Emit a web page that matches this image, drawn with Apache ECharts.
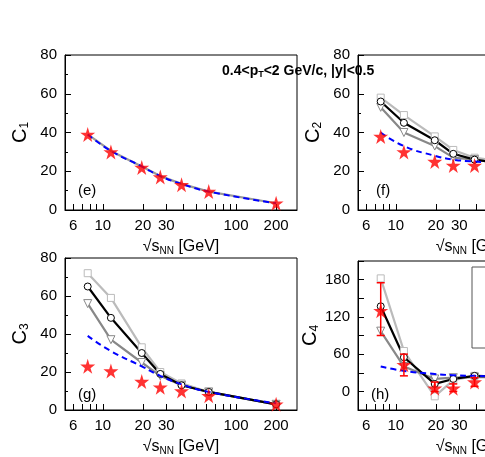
<!DOCTYPE html><html><head><meta charset="utf-8">
<script src="https://cdn.jsdelivr.net/npm/echarts@6/dist/echarts.min.js"></script>
<style>html,body{margin:0;background:#fff;overflow:hidden;width:485px;height:457px}#c{width:620px;height:457px}</style></head><body><div id="c"></div>
<script>
const energies = [7.7, 11.5, 19.6, 27, 39, 62.4, 200];
const xTickLabels = [6, 10, 20, 30, 100, 200];
// panel e (C1)
const c1Data = [39, 30, 22, 17, 13, 9.5, 3.5];
const c1Model = [39, 30.5, 22.5, 17.5, 13.5, 9.5, 3.5];
// panel f (C2)
const c2Data = [38, 30, 25, 23, 23, 22, 21];
const c2Blue = [40, 33, 28, 26, 25, 24, 23];
const c2Square = [58, 49, 38, 31, 27, 25, 23];
const c2Circle = [56, 45, 36, 29, 26, 24, 23];
const c2Tri = [53, 40, 33, 27, 26, 24, 23];
// panel g (C3)
const c3Data = [23, 20.5, 15, 12, 10, 7.5, 3];
const c3Blue = [39, 31, 23, 18, 13.5, 9.5, 3.5];
const c3Square = [72, 59, 33, 20, 14, 9.5, 3];
const c3Circle = [65, 48.5, 30, 19, 13, 9.5, 3];
const c3Tri = [56, 37, 25, 18, 13, 9.5, 3];
// panel h (C4)
const c4Data = [130, 43, 5, 5, 15, 20, 22];
const c4ErrLow = [90, 25, 0, 0, 8, 14, 18];
const c4ErrHigh = [175, 60, 15, 12, 22, 26, 26];
const c4Blue = [40, 33, 28, 26, 25, 24, 23];
const c4Square = [182, 65, -8, 18, 25, 24, 23];
const c4Circle = [137, 55, 12, 20, 25, 24, 23];
const c4Tri = [97, 40, 20, 22, 23, 23, 23];

const F = 'Liberation Sans';
const STAR = 'path://M50,0 L61,35 L98,35 L68,57 L79,91 L50,70 L21,91 L32,57 L2,35 L39,35 Z';
const pair = a => energies.map((e,i)=>[e,a[i]]);
const grids = [
 {left:65, top:55, width:232, height:155},
 {left:358, top:55, width:232, height:155},
 {left:65, top:258, width:232, height:156},
 {left:358, top:261, width:232, height:153}
];
const yConf = [
 {min:0,max:80,interval:20,name:'1',show:v=>true},
 {min:0,max:80,interval:20,name:'2',show:v=>true},
 {min:0,max:80,interval:20,name:'3',show:v=>true},
 {min:-30,max:210,interval:30,name:'4',show:v=>v%60===0}
];
const xAxis = grids.map((g,i)=>({type:'log',logBase:10,gridIndex:i,min:5.2,max:287,
  name:'√s{s|NN} [GeV]',nameLocation:'middle',nameGap:28,
  nameTextStyle:{fontFamily:F,fontSize:16,color:'#000',rich:{s:{fontSize:10,verticalAlign:'bottom',padding:[8,0,0,0],fontFamily:F}}},
  axisLine:{onZero:false,lineStyle:{color:'#000'}},splitLine:{show:false},
  axisTick:{inside:true,length:6,customValues:[6,7,8,9,10,20,30,40,50,60,70,80,90,100,200],lineStyle:{color:'#000'}},
  minorTick:{show:false},
  axisLabel:{customValues:xTickLabels,fontFamily:F,fontSize:15,color:'#000',margin:8}}));
const yAxis = yConf.map((c,i)=>({type:'value',gridIndex:i,min:c.min,max:c.max,interval:c.interval,
  name:'C{s|'+c.name+'}',nameLocation:'middle',nameRotate:90,nameGap:i===3?36:34,
  nameTextStyle:{fontFamily:F,fontSize:20,color:'#000',rich:{s:{fontSize:12,fontFamily:F,verticalAlign:'bottom',padding:[10,0,0,0]}}},
  axisLine:{show:true,onZero:false,lineStyle:{color:'#000'}},splitLine:{show:false},
  axisTick:{inside:true,length:6,lineStyle:{color:'#000'}},
  minorTick:{show:i!==3,splitNumber:2,length:3,lineStyle:{color:'#000'}},
  axisLabel:{fontFamily:F,fontSize:15,color:'#000',formatter:v=>c.show(v)?String(v):''}}));

const series=[];
function ln(i,data,color,sym,name,dash){
  series.push({type:'line',name:name,xAxisIndex:i,yAxisIndex:i,data:pair(data),
    lineStyle:{color:color,width:dash?2:2.2,type:dash?[6,4]:'solid'},itemStyle:{color:'#fff',borderColor:color,borderWidth:1},
    symbol:sym||'none',symbolSize:sym==='triangle'?8:7,symbolRotate:sym==='triangle'?180:0,smooth:dash?true:false,z:dash?4:3,silent:true});
}
function stars(i,data){
  series.push({type:'scatter',xAxisIndex:i,yAxisIndex:i,data:pair(data),symbol:STAR,symbolSize:15,itemStyle:{color:'#f00'},z:6});
}
ln(0,c1Model,'#999',null,'g1');
ln(0,c1Model,'#00f',null,'Model',true);
stars(0,c1Data);
[[1,c2Square,c2Circle,c2Tri,c2Blue,c2Data],[2,c3Square,c3Circle,c3Tri,c3Blue,c3Data],[3,c4Square,c4Circle,c4Tri,c4Blue,c4Data]].forEach(p=>{
  ln(p[0],p[1],'#bbb','rect','UrQMD a');
  ln(p[0],p[3],'#888','triangle','UrQMD c');
  ln(p[0],p[2],'#000','circle','UrQMD b');
  ln(p[0],p[4],'#00f',null,'Model',true);
  stars(p[0],p[5]);
});
series.push({type:'custom',xAxisIndex:3,yAxisIndex:3,z:5,
  data:energies.map((e,i)=>[e,c4ErrLow[i],c4ErrHigh[i]]),
  renderItem:(params,api)=>{const a=api.coord([api.value(0),api.value(1)]),b=api.coord([api.value(0),api.value(2)]);
    const st={stroke:'#f00',lineWidth:1.5};
    return {type:'group',children:[
      {type:'line',shape:{x1:a[0],y1:a[1],x2:b[0],y2:b[1]},style:st},
      {type:'line',shape:{x1:a[0]-4,y1:a[1],x2:a[0]+4,y2:a[1]},style:st},
      {type:'line',shape:{x1:b[0]-4,y1:b[1],x2:b[0]+4,y2:b[1]},style:st}]};}});

const chart=echarts.init(document.getElementById('c'));
chart.setOption({
 animation:false,
 grid:grids.map(g=>Object.assign({show:true,borderColor:'#000',borderWidth:1,backgroundColor:'transparent'},g)),
 xAxis:xAxis,yAxis:yAxis,series:series,
 legend:{orient:'vertical',left:480,top:283,itemGap:7,itemWidth:20,itemHeight:2,icon:'rect',
   data:['Model','UrQMD b','UrQMD a','UrQMD c'],textStyle:{fontFamily:F,fontSize:12,color:'#000'}},
 graphic:[
  {type:'rect',shape:{x:472,y:267,width:120,height:81},style:{fill:'#fff',stroke:'#555',lineWidth:1},z:-1},
  {type:'text',left:222,top:64,style:{text:'0.4<p{s|T}<2 GeV/c, |y|<0.5',fontFamily:F,fontSize:14,fontWeight:'bold',fill:'#000',
    rich:{s:{fontSize:9,fontWeight:'bold',fontFamily:F,padding:[8,0,0,0]}}},z:10},
  {type:'text',left:78,top:183,style:{text:'(e)',fontFamily:F,fontSize:15,fill:'#000'}},
  {type:'text',left:376,top:183,style:{text:'(f)',fontFamily:F,fontSize:15,fill:'#000'}},
  {type:'text',left:78,top:387,style:{text:'(g)',fontFamily:F,fontSize:15,fill:'#000'}},
  {type:'text',left:371,top:387,style:{text:'(h)',fontFamily:F,fontSize:15,fill:'#000'}}
 ]
});
</script></body></html>
